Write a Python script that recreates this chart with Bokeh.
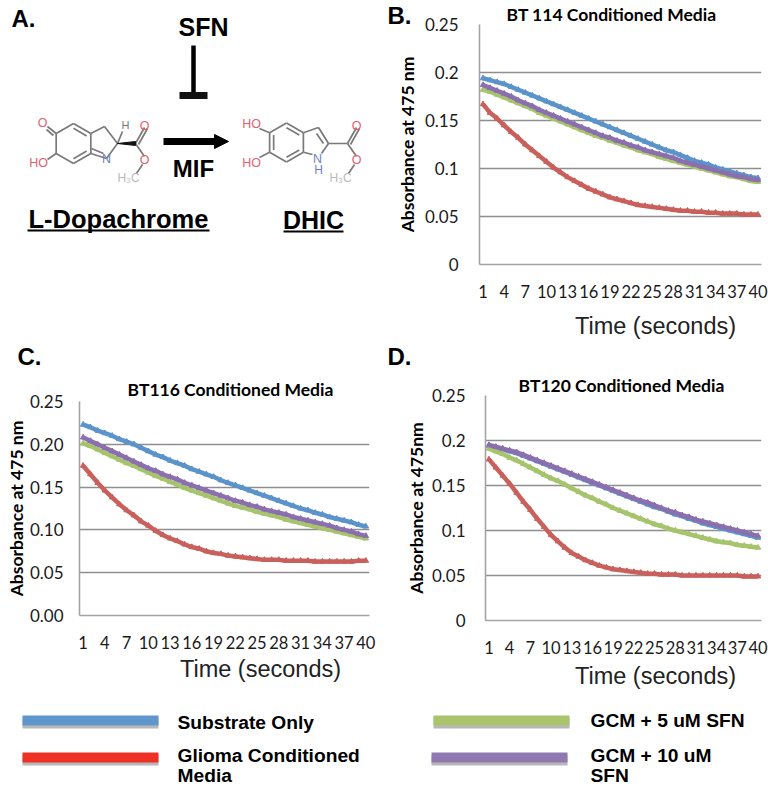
import math
from bokeh.plotting import figure
from bokeh.layouts import column, row
from bokeh.models import Range1d, Label, FixedTicker, Arrow, NormalHead, Title
from bokeh.embed import file_html
from bokeh.resources import INLINE

seconds = list(range(1, 41))
x_ticks = [1, 4, 7, 10, 13, 16, 19, 22, 25, 28, 31, 34, 37, 40]
y_ticks = [0, 0.05, 0.10, 0.15, 0.20, 0.25]
y_labels_short = ["0", "0.05", "0.1", "0.15", "0.2", "0.25"]
y_labels_fixed = ["0.00", "0.05", "0.10", "0.15", "0.20", "0.25"]

b_blue = [.194,.192,.190,.188,.185,.182,.179,.176,.173,.170,.167,.164,.161,.158,.155,.152,.149,.146,.143,.140,.137,.134,.131,.128,.125,.122,.119,.117,.114,.111,.108,.106,.104,.101,.099,.097,.095,.093,.091,.090]
b_red = [.167,.158,.152,.145,.138,.132,.125,.119,.113,.107,.101,.096,.091,.087,.083,.079,.076,.073,.070,.068,.066,.064,.062,.061,.060,.059,.058,.057,.056,.056,.055,.055,.054,.054,.053,.053,.053,.052,.052,.052]
b_green = [.182,.180,.177,.174,.171,.168,.165,.162,.158,.155,.152,.149,.146,.143,.140,.137,.134,.132,.129,.127,.124,.122,.119,.117,.115,.112,.110,.108,.106,.104,.102,.100,.098,.096,.094,.092,.091,.089,.087,.086]
b_purple = [.187,.184,.181,.178,.175,.171,.168,.165,.161,.158,.155,.152,.149,.146,.143,.140,.137,.134,.132,.129,.127,.124,.122,.119,.117,.115,.113,.111,.108,.106,.104,.102,.100,.098,.096,.094,.092,.091,.089,.088]

c_blue = [.223,.220,.216,.213,.210,.206,.203,.200,.196,.192,.188,.185,.181,.178,.175,.171,.168,.165,.162,.158,.155,.152,.149,.146,.143,.140,.137,.134,.131,.128,.125,.123,.120,.118,.115,.113,.111,.109,.106,.104]
c_red = [.175,.165,.155,.146,.138,.130,.123,.117,.110,.105,.099,.094,.090,.087,.083,.080,.078,.075,.073,.072,.070,.069,.068,.067,.066,.065,.065,.065,.064,.064,.064,.064,.063,.063,.063,.063,.063,.063,.064,.064]
c_green = [.201,.198,.194,.190,.186,.182,.178,.175,.171,.167,.163,.160,.156,.153,.149,.146,.143,.140,.137,.134,.131,.128,.126,.124,.121,.119,.117,.115,.112,.110,.108,.106,.104,.102,.100,.098,.096,.094,.092,.090]
c_purple = [.208,.204,.200,.196,.192,.188,.184,.180,.176,.172,.169,.165,.162,.159,.155,.152,.149,.146,.143,.140,.137,.134,.132,.129,.127,.124,.122,.120,.118,.115,.113,.111,.109,.107,.105,.102,.100,.098,.095,.093]

d_blue = [.194,.192,.190,.188,.186,.183,.180,.177,.174,.171,.168,.165,.162,.159,.156,.153,.150,.147,.144,.141,.138,.135,.132,.129,.126,.124,.121,.118,.116,.113,.111,.108,.106,.104,.102,.100,.098,.096,.094,.092]
d_red = [.179,.170,.161,.152,.142,.132,.123,.113,.104,.095,.088,.081,.075,.071,.067,.064,.061,.059,.057,.056,.055,.054,.053,.052,.052,.051,.051,.051,.050,.050,.050,.050,.050,.050,.050,.050,.050,.049,.049,.049]
d_green = [.191,.188,.185,.181,.178,.174,.170,.166,.162,.158,.155,.151,.147,.143,.139,.136,.132,.129,.125,.122,.119,.116,.113,.110,.107,.105,.102,.100,.098,.096,.094,.092,.090,.088,.087,.086,.084,.083,.082,.081]
d_purple = [.195,.193,.191,.189,.187,.184,.181,.178,.175,.172,.169,.166,.163,.160,.157,.154,.151,.148,.145,.142,.139,.136,.133,.131,.128,.125,.122,.120,.117,.115,.112,.110,.108,.106,.104,.102,.100,.098,.096,.094]

BLUE, RED, GREEN, PURPLE = "#5b93cb", "#c9605c", "#a6c46c", "#8b6fae"
LEG_BLUE, LEG_RED, LEG_GREEN, LEG_PURPLE = "#5f97cd", "#ee3124", "#aac46c", "#9078b0"
SANS = "Liberation Sans"
CAL = "Lato"


def lab(p, px, py, text, size, style="normal", font=SANS, color="black", align="center"):
    p.add_layout(Label(x=px, y=py, text=text, text_font=font,
                       text_font_size=f"{size}px", text_font_style=style, text_color=color,
                       text_align=align, text_baseline="middle"))


def sheet(x0, y0, x1, y1, **kw):
    """A bare figure whose ranges are the page's own pixels."""
    p = figure(width=x1 - x0, height=y1 - y0, output_backend="svg", toolbar_location=None,
               frame_align=False, x_range=Range1d(x0, x1), y_range=Range1d(y1, y0),
               min_border=0, outline_line_color=None, **kw)
    p.axis.visible = False
    p.grid.visible = False
    return p


def panel(fig_left, fig_top, fig_w, fig_h, frame, series, labels, ylabel, title, title_left, title_standoff,
          y_standoff, y_lab_standoff, **kw):
    fl, ft, fr, fb = frame
    p = figure(width=fig_w, height=fig_h, output_backend="svg", toolbar_location=None,
               x_range=Range1d(0.5, 40.5), y_range=Range1d(0, 0.25), frame_align=False,
               min_border_left=fl - fig_left, min_border_top=ft - fig_top,
               min_border_right=fig_left + fig_w - fr, min_border_bottom=fig_top + fig_h - fb,
               outline_line_color=None, background_fill_color="white", **kw)
    p.xgrid.visible = False
    p.ygrid.grid_line_color = "#8e8e8e"
    p.ygrid.grid_line_width = 1.3
    p.ygrid.ticker = FixedTicker(ticks=y_ticks)
    for ax in (p.xaxis[0], p.yaxis[0]):
        ax.major_tick_line_color = None
        ax.minor_tick_line_color = None
        ax.axis_line_color = "#a3a3a3"
        ax.axis_line_width = 1.6
        ax.major_label_text_color = "#1a1a1a"
        ax.major_label_text_font = CAL
    p.xaxis[0].ticker = FixedTicker(ticks=x_ticks)
    p.xaxis[0].major_label_text_font_size = "16.5px"
    p.xaxis[0].major_label_standoff = 14
    p.yaxis[0].ticker = FixedTicker(ticks=y_ticks)
    p.yaxis[0].major_label_overrides = {t: s for t, s in zip(y_ticks, labels)}
    p.yaxis[0].major_label_text_font_size = "17px"
    p.yaxis[0].major_label_standoff = y_standoff
    p.yaxis[0].axis_label = ylabel
    p.yaxis[0].axis_label_text_font = CAL
    p.yaxis[0].axis_label_text_font_style = "bold"
    p.yaxis[0].axis_label_text_font_size = "17.5px"
    p.yaxis[0].axis_label_text_color = "black"
    p.yaxis[0].axis_label_standoff = y_lab_standoff
    for vals, col in zip(series, (BLUE, RED, GREEN, PURPLE)):
        p.line(seconds, vals, line_color=col, line_width=4.5)
        p.scatter(seconds, vals, marker="triangle", size=5.5, color=col)
    p.add_layout(Title(text=title, align="left", offset=title_left - fl, standoff=title_standoff,
                       text_font=CAL, text_font_size="17.5px", text_font_style="bold", text_color="black"), "above")
    return p


# --- Panel A (it also carries the letter of panel B, which sits over its right edge)
a = sheet(0, 0, 415, 311)


def hexagon(cx, cy, r):
    return [(cx + r * math.sin(math.radians(60 * k)), cy - r * math.cos(math.radians(60 * k))) for k in range(6)]


def bonds(p, pairs, color="#7a7a7a", width=1.7):
    p.segment([q[0][0] for q in pairs], [q[0][1] for q in pairs],
              [q[1][0] for q in pairs], [q[1][1] for q in pairs],
              line_color=color, line_width=width)


def inner(v1, v2, cx, cy, f=0.76):
    scale = lambda v: (cx + (v[0] - cx) * f, cy + (v[1] - cy) * f)
    return (scale(v1), scale(v2))


GREYC, REDC, BLUEC = "#b9b9b9", "#e5606f", "#6f82c4"

cx, cy, r = 73, 143, 20
v = hexagon(cx, cy, r)
c3, c2, n1, ce, od, os, me = (104, 126), (117, 143), (106, 158), (135, 143), (144, 127), (144, 156), (136, 173)
left_bonds = [(v[i], v[(i + 1) % 6]) for i in range(6)] + [
    inner(v[0], v[1], cx, cy), inner(v[2], v[3], cx, cy),
    (v[1], c3), (c3, c2), (c2, n1), (n1, v[2]), ((103, 153), (91, 148)),
    (c2, (122, 131)), (ce, od), ((138, 144), (147, 128)), (ce, os), (me, (142, 164)),
    (v[5], (47, 126)), ((53, 135), (46, 129)), (v[4], (47, 159)),
]
bonds(a, left_bonds)
a.patch([117, 135, 135], [143, 141, 145], color="#111111")
lab(a, 42, 122, "O", 12.5, color=REDC)
lab(a, 38, 162, "HO", 12.5, color=REDC)
lab(a, 125, 124, "H", 11, color="#777777")
lab(a, 144, 125, "O", 12.5, color=REDC)
lab(a, 144, 159, "O", 12.5, color=REDC)
lab(a, 106, 158, "N", 12.5, color=BLUEC)
lab(a, 128, 177, "H₃C", 12, color=GREYC)

cx, cy, r = 286, 142, 19.5
v = hexagon(cx, cy, r)
c3, c2, ce, od, os, me = (318, 127), (328, 143), (347, 143), (356, 127), (356, 156), (348, 173)
right_bonds = [(v[i], v[(i + 1) % 6]) for i in range(6)] + [
    inner(v[0], v[1], cx, cy), inner(v[2], v[3], cx, cy), inner(v[4], v[5], cx, cy),
    (v[1], c3), (c3, c2), ((316, 133), (323, 143)), (c2, (321, 153)), ((312, 154), v[2]),
    (c2, ce), (ce, od), ((350, 144), (359, 128)), (ce, os), (me, (354, 164)),
    (v[5], (259, 128)), (v[4], (259, 157)),
]
bonds(a, right_bonds)
lab(a, 251, 123, "HO", 12.5, color=REDC)
lab(a, 251, 162, "HO", 12.5, color=REDC)
lab(a, 356, 125, "O", 12.5, color=REDC)
lab(a, 356, 159, "O", 12.5, color=REDC)
lab(a, 317, 158, "N", 12.5, color=BLUEC)
lab(a, 318, 169, "H", 12, color=BLUEC)
lab(a, 340, 177, "H₃C", 12, color=GREYC)

a.segment([193], [45], [193], [93], line_color="black", line_width=4.5)
a.segment([179], [95], [207], [95], line_color="#111111", line_width=7)
a.add_layout(Arrow(end=NormalHead(size=14, fill_color="black", line_color="black"),
                   x_start=163, y_start=141, x_end=228, y_end=141,
                   line_color="black", line_width=7))
lab(a, 11, 18, "A.", 24, "bold", align="left")
lab(a, 387, 15, "B.", 24, "bold", align="left")
lab(a, 203, 26, "SFN", 25, "bold")
lab(a, 193, 168, "MIF", 24, "bold")
lab(a, 118, 218, "L-Dopachrome", 25.5, "bold")
lab(a, 313, 219, "DHIC", 25, "bold")
a.segment([27, 283], [230, 231], [209, 343], [230, 231], line_color="black", line_width=2)

# --- Panels B, C, D
b = panel(385, 0, 383, 311, (479, 24, 761, 264), (b_blue, b_red, b_green, b_purple), y_labels_short,
          "Absorbance at 475 nm", "BT 114 Conditioned Media", 506, 0, 15, 4,
          margin=(0, 0, 0, -30), border_fill_color=None)
c = panel(0, 371, 385, 285, (79, 401, 369, 615), (c_blue, c_red, c_green, c_purple), y_labels_fixed,
          "Absorbance at 475 nm", "BT116 Conditioned Media", 127, 3, 10, 0)
d = panel(385, 371, 383, 285, (485, 395, 761, 620), (d_blue, d_red, d_green, d_purple), y_labels_short,
          "Absorbance at 475nm", "BT120 Conditioned Media", 518, 0, 14, 2)

# --- Strip between the two rows of panels
s = sheet(0, 311, 768, 371)
lab(s, 655, 325, "Time (seconds)", 23.5, color="#222222")
lab(s, 17, 356, "C.", 24, "bold", align="left")
lab(s, 387, 356, "D.", 24, "bold", align="left")

# --- Shared key, with the two lower time labels
k = sheet(0, 656, 768, 786)
lab(k, 260, 668, "Time (seconds)", 23.5, color="#222222")
lab(k, 655, 675, "Time (seconds)", 23.5, color="#222222")
for x0, y0, col in ((22, 720, LEG_BLUE), (22, 757, LEG_RED), (433, 720, LEG_GREEN), (431, 757, LEG_PURPLE)):
    k.segment([x0], [y0 + 3], [x0 + 136], [y0 + 3], line_color="#b8b8b8", line_width=10)
    k.segment([x0], [y0], [x0 + 136], [y0], line_color=col, line_width=10)
LEG = 19.2
lab(k, 177, 722, "Substrate Only", LEG, "bold", align="left")
lab(k, 177, 755, "Glioma Conditioned", LEG, "bold", align="left")
lab(k, 177, 775, "Media", LEG, "bold", align="left")
lab(k, 590, 720, "GCM + 5 uM SFN", LEG, "bold", align="left")
lab(k, 590, 755, "GCM + 10 uM", LEG, "bold", align="left")
lab(k, 590, 775, "SFN", LEG, "bold", align="left")

page = column(row(a, b, spacing=0), s, row(c, d, spacing=0), k, spacing=0)
open("out.html", "w").write(file_html(page, INLINE))
